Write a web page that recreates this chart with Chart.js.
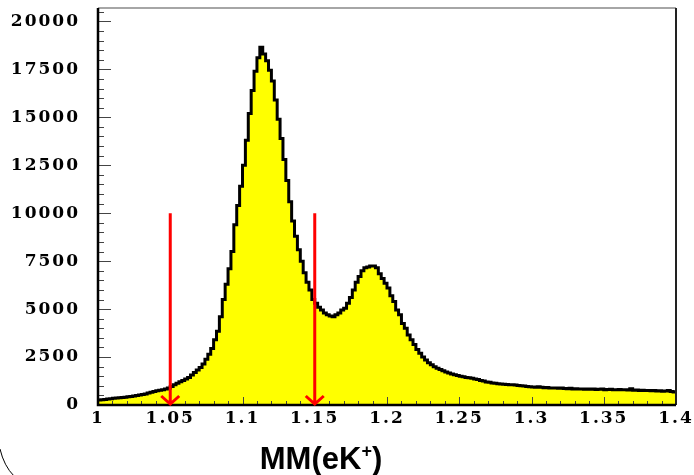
<!DOCTYPE html>
<html>
<head>
<meta charset="utf-8">
<script src="https://cdn.jsdelivr.net/npm/chart.js@4.4.1/dist/chart.umd.min.js"></script>
<style>
  html, body { margin: 0; padding: 0; background: #fff; }
  #c { display: block; }
</style>
</head>
<body>
<canvas id="c" width="694" height="475"></canvas>
<script>
// histogram MM(eK+) : 200 bins de 0.002 entre 1 et 1.4
var xMin = 1.0;
var xMax = 1.4;
var binWidth = 0.002;
var counts = [
  260, 275, 290, 310, 330, 350, 360, 380, 390, 410,
  425, 440, 465, 490, 520, 545, 580, 620, 660, 700,
  740, 770, 800, 840, 880, 960, 1060, 1140, 1210, 1280,
  1350, 1440, 1560, 1700, 1830, 1950, 2140, 2380, 2650, 2950,
  3400, 3850, 4600, 5500, 6300, 7100, 8000, 9400, 10400, 11400,
  12500, 13800, 15200, 16400, 17400, 18100, 18650, 18300, 17950, 17450,
  16900, 15900, 14900, 13900, 12800, 11700, 10600, 9600, 8800, 8100,
  7500, 6900, 6400, 6000, 5500, 5300, 5100, 4950, 4800, 4700,
  4640, 4600, 4700, 4800, 4950, 5050, 5300, 5600, 6000, 6400,
  6700, 7000, 7150, 7200, 7250, 7250, 7150, 6850, 6600, 6350,
  6100, 5700, 5400, 4950, 4700, 4250, 4000, 3650, 3400, 3150,
  2900, 2700, 2500, 2350, 2200, 2100, 2000, 1920, 1850, 1780,
  1720, 1670, 1620, 1580, 1540, 1500, 1470, 1440, 1420, 1400,
  1360, 1330, 1280, 1250, 1200, 1180, 1150, 1130, 1110, 1090,
  1080, 1070, 1050, 1060, 1040, 1020, 1000, 990, 970, 950,
  940, 930, 950, 920, 900, 910, 890, 880, 890, 870,
  880, 860, 850, 870, 840, 850, 830, 840, 820, 830,
  820, 830, 810, 820, 830, 800, 810, 820, 790, 800,
  810, 790, 800, 780, 850, 770, 780, 760, 770, 750,
  760, 740, 750, 730, 740, 720, 730, 760, 710, 680
];
// fleches rouges (coupures)
var arrowX = [1.05, 1.15];
var arrowTop = 10000;
// graduations
var yTicks = [0, 2500, 5000, 7500, 10000, 12500, 15000, 17500, 20000];
var xTicks = [1, 1.05, 1.1, 1.15, 1.2, 1.25, 1.3, 1.35, 1.4];

var yMax = 20700;
var yMajor = 2500, yMinor = 500;
var xMinor = 0.01;

// points aux bords gauches des bins + point final
var points = counts.map(function(v, i) {
  return { x: xMin + i * binWidth, y: v };
});
points.push({ x: xMax, y: counts[counts.length - 1] });

var tickFont = { family: 'DejaVu Serif', weight: 'bold', size: 17 };

// chiffres plus larges, comme la police ROOT
var wideLabels = {
  id: 'wideLabels',
  beforeDraw: function(chart) { chart.ctx.letterSpacing = '2px'; },
  afterDraw: function(chart) { chart.ctx.letterSpacing = '0px'; }
};

// cadre, graduations style ROOT, fleches et titre
var rootFrame = {
  id: 'rootFrame',
  afterDatasetsDraw: function(chart) {
    var ctx = chart.ctx;
    var xs = chart.scales.x, ys = chart.scales.y;
    var a = chart.chartArea;
    ctx.save();
    ctx.letterSpacing = '0px';

    // graduations y (vers l'interieur)
    ctx.strokeStyle = '#444';
    ctx.lineWidth = 1;
    ctx.beginPath();
    for (var v = 0; v <= yMax + 1e-6; v += yMinor) {
      var py = Math.round(ys.getPixelForValue(v)) + 0.5;
      var len = (v % yMajor === 0) ? 13 : 6;
      ctx.moveTo(a.left, py);
      ctx.lineTo(a.left + len, py);
    }
    // graduations x (vers le haut)
    var n = Math.round((xMax - xMin) / xMinor);
    for (var i = 0; i <= n; i++) {
      var xv = xMin + i * xMinor;
      var px = Math.round(xs.getPixelForValue(xv)) + 0.5;
      var l2 = (i % 5 === 0) ? 8 : 4;
      ctx.moveTo(px, a.bottom);
      ctx.lineTo(px, a.bottom - l2);
    }
    ctx.stroke();

    // cadre
    ctx.strokeStyle = '#888';
    ctx.lineWidth = 1.5;
    ctx.beginPath();
    ctx.moveTo(a.left, a.top);
    ctx.lineTo(a.right, a.top);
    ctx.stroke();
    ctx.strokeStyle = '#222';
    ctx.lineWidth = 2;
    ctx.beginPath();
    ctx.moveTo(a.right, a.top);
    ctx.lineTo(a.right, a.bottom);
    ctx.stroke();
    ctx.strokeStyle = '#000';
    ctx.lineWidth = 2.5;
    ctx.beginPath();
    ctx.moveTo(a.left, a.top);
    ctx.lineTo(a.left, a.bottom);
    ctx.lineTo(a.right, a.bottom);
    ctx.stroke();

    // fleches rouges
    ctx.strokeStyle = '#ff0000';
    ctx.lineWidth = 3;
    arrowX.forEach(function(xv) {
      var px = xs.getPixelForValue(xv);
      var top = ys.getPixelForValue(arrowTop);
      var bot = ys.getPixelForValue(0) - 1;
      ctx.beginPath();
      ctx.moveTo(px, top);
      ctx.lineTo(px, bot);
      ctx.moveTo(px - 9, bot - 8);
      ctx.lineTo(px, bot);
      ctx.lineTo(px + 9, bot - 8);
      ctx.stroke();
    });

    // titre de l'axe x
    ctx.fillStyle = '#000';
    ctx.textBaseline = 'alphabetic';
    ctx.textAlign = 'left';
    var big = 'bold 31px "Liberation Sans", Arial, sans-serif';
    var small = 'bold 18px "Liberation Sans", Arial, sans-serif';
    ctx.font = big;
    var w1 = ctx.measureText('MM(eK').width;
    var w3 = ctx.measureText(')').width;
    ctx.font = small;
    var w2 = ctx.measureText('+').width;
    var x0 = 321 - (w1 + w2 + w3) / 2;
    var base = 469;
    ctx.font = big;
    ctx.fillText('MM(eK', x0, base);
    ctx.font = small;
    ctx.fillText('+', x0 + w1, base - 12);
    ctx.font = big;
    ctx.fillText(')', x0 + w1 + w2, base);

    // arc en bas a gauche
    ctx.strokeStyle = '#000';
    ctx.lineWidth = 1;
    ctx.beginPath();
    ctx.moveTo(0, 449);
    ctx.quadraticCurveTo(4, 466, 14, 476);
    ctx.stroke();

    ctx.restore();
  }
};

var chart = new Chart(document.getElementById('c').getContext('2d'), {
  type: 'line',
  data: {
    datasets: [{
      data: points,
      stepped: 'before',
      fill: 'origin',
      backgroundColor: '#ffff00',
      borderColor: '#000',
      borderWidth: 3,
      pointRadius: 0,
      tension: 0
    }]
  },
  options: {
    responsive: false,
    animation: false,
    layout: { padding: { top: 8, right: 18, left: 0, bottom: 0 } },
    plugins: { legend: { display: false }, tooltip: { enabled: false } },
    scales: {
      x: {
        type: 'linear',
        min: xMin,
        max: xMax,
        grid: { display: false, drawTicks: false },
        border: { display: false },
        afterBuildTicks: function(s) {
          s.ticks = xTicks.map(function(v) { return { value: v }; });
        },
        ticks: {
          color: '#000',
          font: tickFont,
          padding: 3,
          maxRotation: 0,
          autoSkip: false,
          callback: function(v) { return String(+v.toFixed(2)); }
        },
        afterFit: function(s) {
          s.height = 70;
          s.paddingLeft = 0;
          s.paddingRight = 0;
        }
      },
      y: {
        min: 0,
        max: yMax,
        grid: { display: false, drawTicks: false },
        border: { display: false },
        afterBuildTicks: function(s) {
          s.ticks = yTicks.map(function(v) { return { value: v }; });
        },
        ticks: {
          color: '#000',
          font: tickFont,
          padding: 18,
          autoSkip: false,
          callback: function(v) { return String(v); }
        },
        afterFit: function(s) {
          s.width = 98;
          s.paddingTop = 0;
          s.paddingBottom = 0;
        }
      }
    }
  },
  plugins: [wideLabels, rootFrame]
});
</script>
</body>
</html>
